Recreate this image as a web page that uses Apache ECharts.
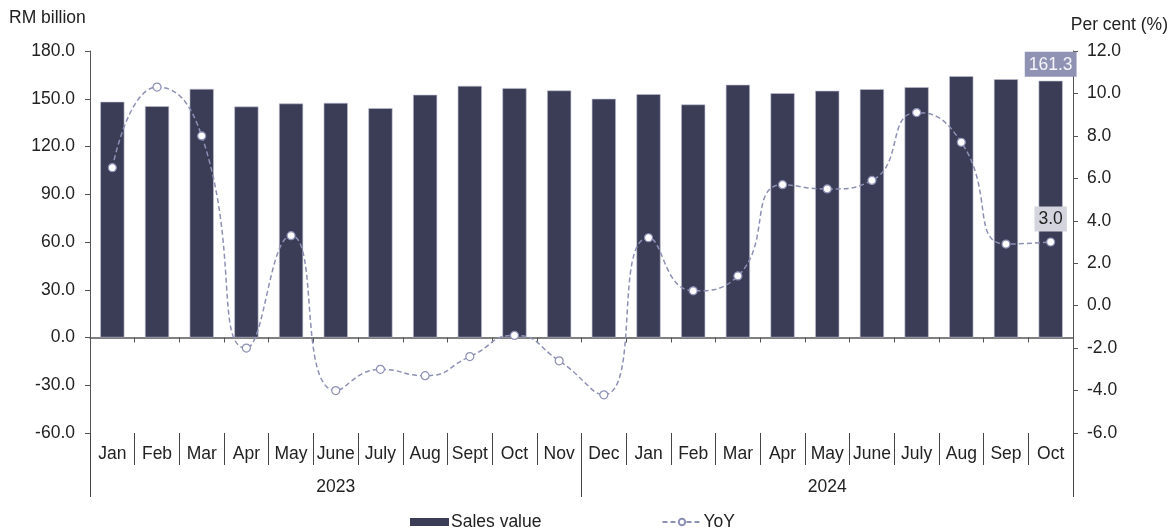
<!DOCTYPE html>
<html>
<head>
<meta charset="utf-8">
<script src="https://cdn.jsdelivr.net/npm/echarts@6/dist/echarts.min.js"></script>
<style>html,body{margin:0;padding:0;background:#fff}#c{width:1170px;height:529px}</style>
</head>
<body>
<div id="c"></div>
<script>
var months = ['Jan','Feb','Mar','Apr','May','June','July','Aug','Sept','Oct','Nov','Dec','Jan','Feb','Mar','Apr','May','June','July','Aug','Sep','Oct'];
var years = ['2023','2024'];
var salesValue = [148.1,145.3,156.2,145.1,147.0,147.4,144.1,152.5,158.1,156.7,155.2,150.0,152.9,146.4,158.8,153.5,155.0,156.0,157.3,164.2,162.3,161.3];
var yoy = [6.5,10.3,8.0,-2.0,3.3,-4.0,-3.0,-3.3,-2.4,-1.4,-2.6,-4.2,3.2,0.7,1.4,5.7,5.5,5.9,9.1,7.7,2.9,3.0];
var leftTicks = {min:-60, max:180, interval:30};
var rightTicks = {min:-6, max:12, interval:2};

var FONT = '"Liberation Sans", Arial, sans-serif';
var FS = 17.5;
var chart = echarts.init(document.getElementById('c'), null, {renderer:'canvas'});
var last = salesValue.length - 1;
var barData = salesValue.map(function(v,i){
  if (i === last) return {value:v, label:{show:true, position:'top', distance:4, formatter:function(p){return p.value.toFixed(1);}, color:'#f4f4fa', fontSize:FS, fontFamily:FONT, backgroundColor:'#9092b4', padding:[4,4,3,4]}};
  return v;
});
var lineData = yoy.map(function(v,i){
  if (i === last) return {value:v, label:{show:true, position:'top', distance:6, formatter:function(p){return p.value.toFixed(1);}, color:'#222', fontSize:FS, fontFamily:FONT, backgroundColor:'#d3d4de', padding:[4,4,3,4]}};
  return v;
});
var axisCol = '#555';
chart.setOption({
  animation:false,
  textStyle:{fontFamily:FONT},
  grid:{left:90, right:97, top:51, bottom:96, containLabel:false},
  graphic:[
    {type:'text', left:9, top:9, style:{text:'RM billion', fontSize:FS, fontFamily:FONT, fill:'#222'}},
    {type:'text', right:2, top:16, style:{text:'Per cent (%)', fontSize:FS, fontFamily:FONT, fill:'#222'}}
  ],
  legend:{
    bottom:-7, left:405, itemGap:120, itemWidth:39, itemHeight:8,
    textStyle:{fontSize:FS, color:'#222', fontFamily:FONT, padding:[0,0,0,-3]},
    data:[{name:'Sales value', icon:'rect', itemStyle:{borderWidth:0}}, {name:'YoY'}]
  },
  xAxis:[
    {type:'category', data:months, position:'bottom',
     axisLine:{show:true, onZero:true, lineStyle:{color:axisCol, width:1.5}},
     axisTick:{show:true, interval:0, length:5, lineStyle:{color:axisCol}},
     axisLabel:{show:false}, splitLine:{show:false}},
    {type:'category', data:months, position:'bottom',
     axisLine:{show:false, onZero:false},
     axisTick:{show:true, interval:0, length:32, lineStyle:{color:'#444'}},
     axisLabel:{show:true, interval:0, margin:12, fontSize:FS, color:'#222', fontFamily:FONT}},
    {type:'category', data:years, position:'bottom',
     axisLine:{show:false, onZero:false},
     axisTick:{show:true, interval:0, length:64, lineStyle:{color:'#444'}},
     axisLabel:{show:true, interval:0, margin:45, fontSize:FS, color:'#222', fontFamily:FONT}}
  ],
  yAxis:[
    {type:'value', min:leftTicks.min, max:leftTicks.max, interval:leftTicks.interval, position:'left',
     axisLine:{show:true, lineStyle:{color:axisCol}},
     axisTick:{show:true, length:5, lineStyle:{color:axisCol}},
     axisLabel:{margin:15, fontSize:FS, color:'#222', fontFamily:FONT, formatter:function(v){return v.toFixed(1);}},
     splitLine:{show:false}},
    {type:'value', min:rightTicks.min, max:rightTicks.max, interval:rightTicks.interval, position:'right',
     axisLine:{show:true, lineStyle:{color:axisCol}},
     axisTick:{show:true, length:5, lineStyle:{color:axisCol}},
     axisLabel:{margin:14, fontSize:FS, color:'#222', fontFamily:FONT, formatter:function(v){return v.toFixed(1);}},
     splitLine:{show:false}}
  ],
  series:[
    {name:'Sales value', type:'bar', xAxisIndex:0, yAxisIndex:0, data:barData, barWidth:'54%',
     itemStyle:{color:'#3b3d57', borderColor:'#bfc1d1', borderWidth:0.6}},
    {name:'YoY', type:'line', xAxisIndex:0, yAxisIndex:1, data:lineData, smooth:0.55,
     symbol:'circle', symbolSize:8, showAllSymbol:true,
     lineStyle:{color:'#8d90b5', width:1.5, type:[5,3]},
     itemStyle:{color:'#ffffff', borderColor:'#8d90b5', borderWidth:1.2}, z:5}
  ]
});
</script>
</body>
</html>
